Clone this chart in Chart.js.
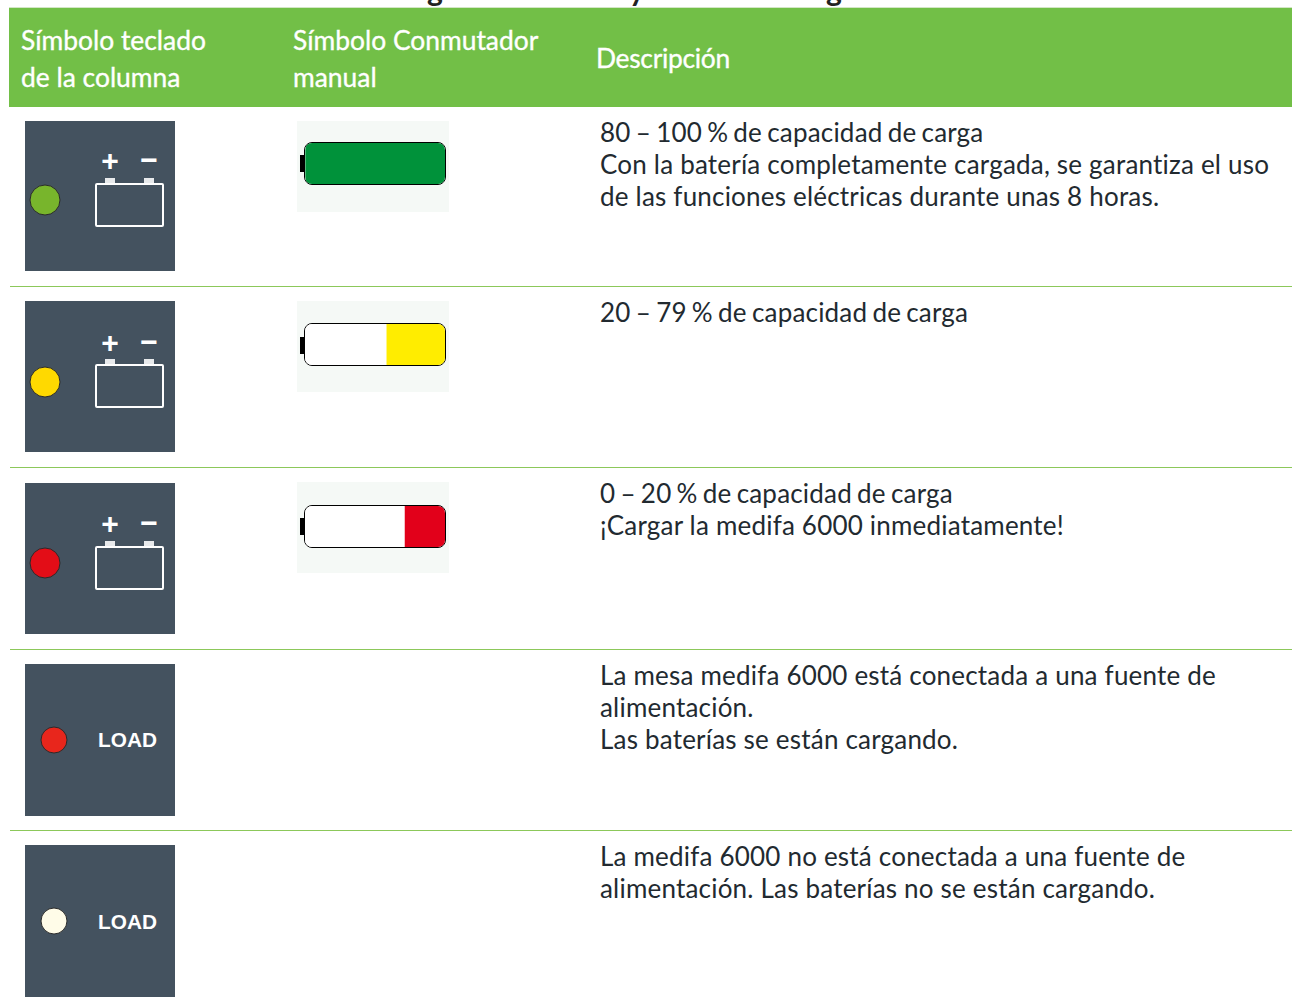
<!DOCTYPE html>
<html lang="es">
<head>
<meta charset="utf-8">
<title>Símbolos de carga</title>
<script src="https://cdn.jsdelivr.net/npm/chart.js@4"></script>
<style>
    html, body { margin: 0; padding: 0; background: #fff; overflow: hidden; }
    #page { position: relative; width: 1292px; height: 1002px; overflow: hidden; font-family: Lato, sans-serif; color: #222a30; }
    #page div, #page canvas { position: absolute; }
    .header { left: 9px; top: 8px; width: 1283px; height: 99px; background: #72bf47; box-shadow: 0 -1px 0 #d3e6c6; }
    .head-text { color: #fff; font-size: 26.4px; line-height: 37px; white-space: pre; -webkit-text-stroke: 0.35px #fff; }
    .desc { left: 600px; font-size: 26px; line-height: 32px; letter-spacing: 0.2px; white-space: pre; }
    .desc span { display: block; }
    .desc .tight { word-spacing: -1.7px; }
    .title-bit { color: #222; font-size: 30px; font-weight: 700; line-height: 36px; }
    .rule { left: 10px; width: 1282px; height: 1px; background: #8cc85a; }
    .panel { left: 25px; background: #44525f; }
    .sign { color: #fff; font: 700 30px/30px "Liberation Sans", sans-serif; text-align: center; width: 30px; }
    .term { background: #e8eaec; width: 10px; height: 6px; }
    .cell { border: 2px solid #fff; border-radius: 2px; width: 65px; height: 40px; }
    .load { left: 73px; width: 60px; color: #fff; font: 700 20.8px/24px "Liberation Sans", sans-serif; }
    .gauge-bg { left: 297px; width: 152px; height: 91px; background: #f5f9f6; }
    .gauge-tip { left: 300px; width: 5px; height: 17px; background: #000; }
    .gauge-body { left: 304px; width: 140px; height: 41px; border: 1.5px solid #000; border-radius: 8px; overflow: hidden; background: #fff; }
</style>
</head>
<body>
<div id="page"></div>
<script>
const headers = ['Símbolo teclado\nde la columna', 'Símbolo Conmutador\nmanual', 'Descripción'];
const descriptions = [
    '80 – 100 % de capacidad de carga\nCon la batería completamente cargada, se garantiza el uso\nde las funciones eléctricas durante unas 8 horas.',
    '20 – 79 % de capacidad de carga',
    '0 – 20 % de capacidad de carga\n¡Cargar la medifa 6000 inmediatamente!',
    'La mesa medifa 6000 está conectada a una fuente de\nalimentación.\nLas baterías se están cargando.',
    'La medifa 6000 no está conectada a una fuente de\nalimentación. Las baterías no se están cargando.'
];
const ledColors = ['#78b52c', '#ffd900', '#e30d17', '#e8261c', '#fffce8'];
const panelLabels = ['battery', 'battery', 'battery', 'LOAD', 'LOAD'];
// how much of the gauge is filled (percent)
const gaugeFill = [100, 42, 29];
const gaugeColors = ['#00923a', '#ffed00', '#e2001a'];
// only the tails of the cropped title are left in the picture
const titleBits = ['g', 'y', 'g'];

const titleLefts = [427, 629, 826];
const rowTops = [121, 301, 483, 664, 845];
const panelWidths = [149.5, 149.5, 149.5, 150, 150];
const panelHeights = [150, 151, 151, 152, 152];
const ledTops = [200, 382, 563, 740, 921];
const iconTops = [183, 364, 546];
const signTops = [146, 328, 509];
const loadTops = [0, 0, 0, 728, 910];
const ruleTops = [286, 467, 649, 830];
const descTops = [116, 296, 477, 659, 840];
const gaugeTops = [121, 301, 482];
const gaugeBodyTops = [142, 323, 505];
const gaugeTipTops = [155, 337, 518];

const page = document.getElementById('page');

function addDiv(className, style, text) {
    const el = document.createElement('div');
    el.className = className;
    Object.assign(el.style, style);
    if (text) el.textContent = text;
    page.appendChild(el);
    return el;
}

function px(v) {
    return v + 'px';
}

// one point in the middle of a small square canvas
function drawLed(color, left, top, radius) {
    const size = radius * 2 + 4;
    const canvas = document.createElement('canvas');
    canvas.style.left = px(left - size / 2);
    canvas.style.top = px(top - size / 2);
    canvas.style.width = px(size);
    canvas.style.height = px(size);
    canvas.width = size;
    canvas.height = size;
    page.appendChild(canvas);
    new Chart(canvas, {
        type: 'scatter',
        data: {
            datasets: [{
                data: [{ x: 0, y: 0 }],
                backgroundColor: color,
                borderColor: '#2b2b2b',
                borderWidth: 1,
                pointRadius: radius,
                pointHoverRadius: radius,
                clip: false
            }]
        },
        options: {
            responsive: false,
            animation: false,
            events: [],
            layout: { autoPadding: false, padding: 0 },
            plugins: { legend: { display: false }, tooltip: { enabled: false } },
            scales: {
                x: { display: false, min: -1, max: 1 },
                y: { display: false, min: -1, max: 1 }
            }
        }
    });
}

// stacked horizontal bar: empty part on the left, charge on the right
function drawGauge(fill, color, i) {
    addDiv('gauge-bg', { top: px(gaugeTops[i]) });
    addDiv('gauge-tip', { top: px(gaugeTipTops[i]) });
    const body = addDiv('gauge-body', { top: px(gaugeBodyTops[i]) });
    const canvas = document.createElement('canvas');
    canvas.style.left = '0';
    canvas.style.top = '0';
    canvas.style.width = '140px';
    canvas.style.height = '41px';
    canvas.width = 140;
    canvas.height = 41;
    body.appendChild(canvas);
    new Chart(canvas, {
        type: 'bar',
        data: {
            labels: ['carga'],
            datasets: [
                { data: [100 - fill], backgroundColor: '#ffffff', barPercentage: 1, categoryPercentage: 1 },
                { data: [fill], backgroundColor: color, barPercentage: 1, categoryPercentage: 1 }
            ]
        },
        options: {
            indexAxis: 'y',
            responsive: false,
            animation: false,
            events: [],
            plugins: { legend: { display: false }, tooltip: { enabled: false } },
            scales: {
                x: { display: false, stacked: true, min: 0, max: 100 },
                y: { display: false, stacked: true }
            }
        }
    });
}

function drawBatteryIcon(i) {
    const top = iconTops[i];
    addDiv('sign', { left: '95px', top: px(signTops[i]) }, '+');
    addDiv('sign', { left: '134px', top: px(signTops[i] - 1) }, '−');
    addDiv('term', { left: '105px', top: px(top - 5) });
    addDiv('term', { left: '144px', top: px(top - 5) });
    addDiv('cell', { left: '95px', top: px(top) });
}

function addDescription(text, top) {
    const box = addDiv('desc', { top: px(top) });
    text.split('\n').forEach(line => {
        const span = document.createElement('span');
        span.textContent = line;
        // the lines with a range have narrower gaps in the original
        if (line.includes('–')) span.className = 'tight';
        box.appendChild(span);
    });
}

titleBits.forEach((bit, i) => addDiv('title-bit', { left: px(titleLefts[i]), top: '-29px' }, bit));

addDiv('header', {});
addDiv('head-text', { left: '21px', top: '22px' }, headers[0]);
addDiv('head-text', { left: '293px', top: '22px' }, headers[1]);
addDiv('head-text', { left: '596px', top: '40px', letterSpacing: '-0.3px' }, headers[2]);

ruleTops.forEach(top => addDiv('rule', { top: px(top) }));

rowTops.forEach((top, i) => {
    addDiv('panel', { top: px(top), width: px(panelWidths[i]), height: px(panelHeights[i]) });
    if (panelLabels[i] === 'battery') {
        drawBatteryIcon(i);
        drawLed(ledColors[i], 45, ledTops[i], 15);
    } else {
        addDiv('load', { left: '98px', top: px(loadTops[i]) }, panelLabels[i]);
        drawLed(ledColors[i], 54, ledTops[i], 13);
    }
    addDescription(descriptions[i], descTops[i]);
});

gaugeFill.forEach((fill, i) => drawGauge(fill, gaugeColors[i], i));
</script>
</body>
</html>
